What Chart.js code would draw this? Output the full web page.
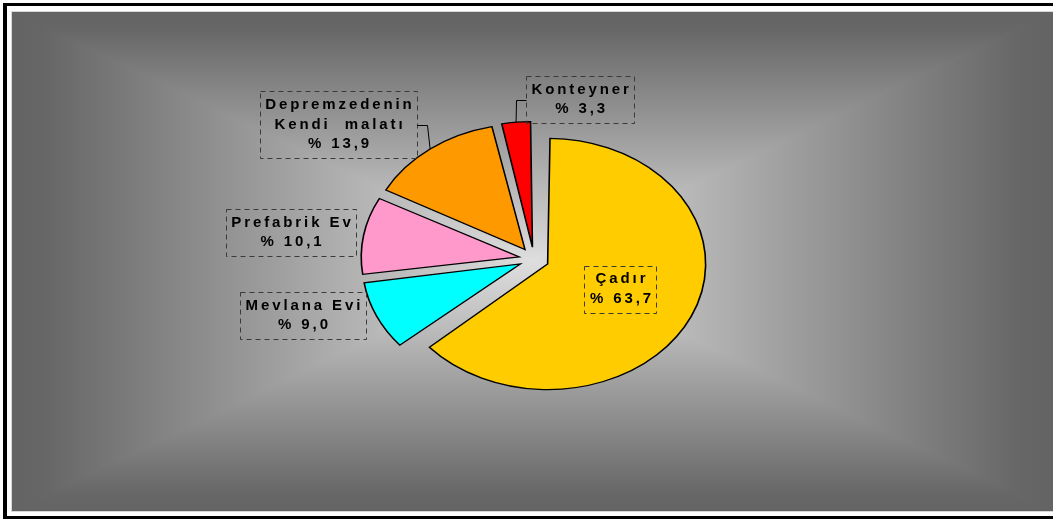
<!DOCTYPE html>
<html><head><meta charset="utf-8">
<script src="https://cdn.jsdelivr.net/npm/chart.js@4.4.0/dist/chart.umd.min.js"></script>
<style>html,body{margin:0;padding:0;background:#fff;overflow:hidden}#wrap{width:1053px;height:519px;position:relative}canvas{display:block}</style>
</head><body><div id="wrap"><canvas id="c" width="1053" height="519"></canvas></div>
<script>
// ---- data ----
const categories = ['Çadır', 'Mevlana Evi', 'Prefabrik Ev', 'Depremzedenin Kendi  malatı', 'Konteyner'];
const labelLines = [['Çadır'], ['Mevlana Evi'], ['Prefabrik Ev'], ['Depremzedenin', 'Kendi  malatı'], ['Konteyner']];
const shares = [63.7, 9.0, 10.1, 13.9, 3.3];
const shareLabels = ['% 63,7', '% 9,0', '% 10,1', '% 13,9', '% 3,3'];
const sliceColors = ['#FFCC00', '#00FFFF', '#FF99CC', '#FF9900', '#FF0000'];

// ---- layout (not data) ----
const K = 0.795;      // vertical squash of the pie (3D tilt look)
const R = 158;        // pie radius
const EXPLODE = 15;   // px explosion of every slice
const LS = 2.9;       // letter spacing
const LH = 19.5;      // label line height
const PADX = 5.5;
const labelPos = [
  {dx: 86.5, dy: 30},
  {dx: -231, dy: 56.3},
  {dx: -243, dy: -26.7},
  {dx: -195.5, dy: -134.5, leader: 'right'},
  {dx: 46.2, dy: -159.5, leader: 'left'}
];

const bgPlugin = {
  id: 'bg',
  beforeDraw(chart) {
    const ctx = chart.ctx;
    ctx.save();
    ctx.fillStyle = '#fff'; ctx.fillRect(0, 0, 1053, 519);
    ctx.fillStyle = '#000';
    ctx.fillRect(3, 3, 4, 516);
    ctx.fillRect(3, 3, 1050, 3);
    ctx.fillRect(3, 516, 1050, 3);
    const x0 = 12, y0 = 12, x1 = 1053, y1 = 511, mx = (x0 + x1) / 2, my = (y0 + y1) / 2;
    ctx.save();
    ctx.beginPath(); ctx.rect(x0, y0, x1 - x0, y1 - y0); ctx.clip();
    const tri = (pts, g0, g1) => {
      const g = ctx.createLinearGradient(g0[0], g0[1], g1[0], g1[1]);
      g.addColorStop(0, '#646464');
      g.addColorStop(0.06, '#666666');
      g.addColorStop(0.55, '#a4a4a4');
      g.addColorStop(1, '#dedede');
      ctx.fillStyle = g; ctx.strokeStyle = g; ctx.lineWidth = 1.5;
      ctx.beginPath(); ctx.moveTo(pts[0][0], pts[0][1]);
      for (let i = 1; i < pts.length; i++) ctx.lineTo(pts[i][0], pts[i][1]);
      ctx.closePath(); ctx.fill(); ctx.stroke();
    };
    tri([[x0, y0], [x1, y0], [mx, my]], [mx, y0], [mx, my]);
    tri([[x0, y1], [x1, y1], [mx, my]], [mx, y1], [mx, my]);
    tri([[x0, y0], [x0, y1], [mx, my]], [x0, my], [mx, my]);
    tri([[x1, y0], [x1, y1], [mx, my]], [x1, my], [mx, my]);
    ctx.restore();
    ctx.strokeStyle = '#d8d8d8'; ctx.lineWidth = 1;
    ctx.strokeRect(x0 - 0.5, y0 - 0.5, x1 - x0 + 2, y1 - y0 + 1);
    ctx.restore();
  }
};

const fixPlugin = {
  id: 'fixRadius',
  afterDatasetsUpdate(chart) {
    chart.getDatasetMeta(0).data.forEach(arc => {
      const off = (arc.options.offset || 0) / 4;
      const fix = 1 - Math.sin(Math.min(Math.PI, arc.circumference || 0));
      arc.outerRadius = R - off * fix;
    });
  }
};

const squashPlugin = {
  id: 'squash',
  beforeDatasetsDraw(chart) {
    const a = chart.chartArea, cy = (a.top + a.bottom) / 2, ctx = chart.ctx;
    ctx.save(); ctx.translate(0, cy); ctx.scale(1, K); ctx.translate(0, -cy);
  },
  afterDatasetsDraw(chart) { chart.ctx.restore(); }
};

const labelPlugin = {
  id: 'labels',
  afterDraw(chart) {
    const ctx = chart.ctx, meta = chart.getDatasetMeta(0), a = chart.chartArea;
    const cx = (a.left + a.right) / 2, cy = (a.top + a.bottom) / 2;
    ctx.save();
    ctx.font = 'bold 15px "Liberation Sans", Arial, sans-serif';
    ctx.letterSpacing = LS + 'px';
    meta.data.forEach((arc, i) => {
      const lines = [...labelLines[i], shareLabels[i]];
      const pos = labelPos[i];
      const bx = cx + pos.dx, by = cy + pos.dy;
      const w = Math.max(...lines.map(t => ctx.measureText(t).width - LS)) + 2 * PADX;
      const h = lines.length * LH + 8;
      const left = Math.round(bx - w / 2) + 0.5, top = Math.round(by - h / 2) + 0.5;
      ctx.setLineDash([5, 4]); ctx.strokeStyle = '#3a3a3a'; ctx.lineWidth = 1;
      ctx.strokeRect(left, top, Math.round(w), Math.round(h));
      ctx.setLineDash([]);
      ctx.fillStyle = '#000'; ctx.textAlign = 'center'; ctx.textBaseline = 'middle';
      lines.forEach((t, j) => ctx.fillText(t, bx + LS / 2, by - h / 2 + 4 + LH * (j + 0.5)));
      if (pos.leader) {
        const mid = (arc.startAngle + arc.endAngle) / 2;
        const off = (arc.options.offset || 0) / 4;
        const px = arc.x + Math.cos(mid) * (off + R);
        const py = cy + (arc.y - cy + Math.sin(mid) * (off + R)) * K;
        const sx = pos.leader === 'right' ? left + Math.round(w) : left;
        const ex = pos.leader === 'right' ? sx + 10 : sx - 10;
        ctx.strokeStyle = '#000'; ctx.lineWidth = 1;
        ctx.beginPath(); ctx.moveTo(sx, Math.round(by) + 0.5); ctx.lineTo(ex, Math.round(by) + 0.5); ctx.lineTo(px, py); ctx.stroke();
      }
    });
    ctx.restore();
  }
};

new Chart(document.getElementById('c'), {
  type: 'pie',
  data: {
    labels: categories,
    datasets: [{
      data: shares,
      backgroundColor: sliceColors,
      borderColor: '#000',
      borderWidth: 1.6,
      borderJoinStyle: 'miter',
      offset: EXPLODE * 4,
      hoverOffset: EXPLODE * 4,
      radius: R,
      clip: false
    }]
  },
  options: {
    responsive: false,
    animation: false,
    events: [],
    layout: {padding: {left: 15, right: 0, top: 0, bottom: 1}},
    plugins: {legend: {display: false}, tooltip: {enabled: false}}
  },
  plugins: [bgPlugin, fixPlugin, squashPlugin, labelPlugin]
});
</script>
</body></html>
